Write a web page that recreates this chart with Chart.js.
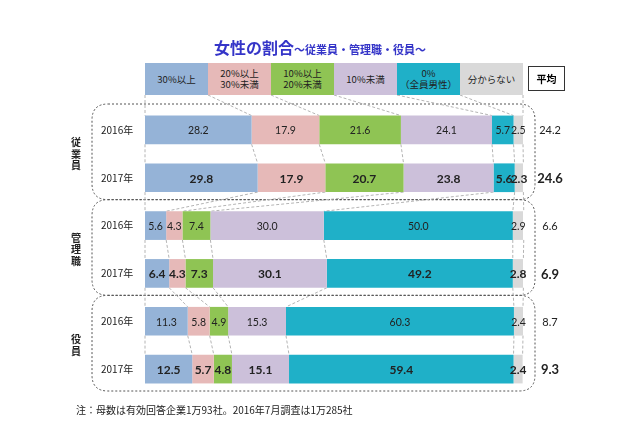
<!DOCTYPE html>
<html>
<head>
<meta charset="utf-8">
<script src="https://cdn.jsdelivr.net/npm/chart.js@4"></script>
<style>
  body { margin: 0; background: #fff; }
  #wrap { position: relative; width: 640px; height: 426px; font-family: "Noto Sans CJK JP", sans-serif; }
  #title { position: absolute; left: 0; width: 640px; top: 35px; text-align: center; color: #3535c8; font-weight: bold; }
  #title .big { font-size: 16px; }
  #title .small { font-size: 11px; }
  #legend { position: absolute; left: 145px; top: 63px; width: 378px; height: 32px; display: flex; }
  #legend div { flex: 1; display: flex; align-items: center; justify-content: center; text-align: center; font-size: 9.5px; line-height: 11px; color: #222; }
  #avg { position: absolute; left: 528px; top: 66px; width: 37px; height: 25px; border: 1px solid #333; box-sizing: border-box; font-size: 10px; font-weight: bold; display: flex; align-items: center; justify-content: center; }
  #note { position: absolute; left: 76px; top: 402px; font-size: 10px; color: #222; }
  canvas { position: absolute; left: 0; top: 0; }
</style>
</head>
<body>
<div id="wrap">
  <canvas id="chart" width="640" height="426"></canvas>
  <div id="title"><span class="big">女性の割合</span><span class="small">～従業員・管理職・役員～</span></div>
  <div id="legend"></div>
  <div id="avg">平均</div>
  <div id="note">注：母数は有効回答企業1万93社。2016年7月調査は1万285社</div>
</div>
<script>
// categories
const rowLabels = ['2016年', '2017年', '2016年', '2017年', '2016年', '2017年'];
const groupLabels = ['従業員', '管理職', '役員'];
const seriesNames = ['30%以上', '20%以上<br>30%未満', '10%以上<br>20%未満', '10%未満', '0%<br>（全員男性）', '分からない'];
const seriesColors = ['#95b3d7', '#e6b9b8', '#8fc454', '#ccc0da', '#1fb0c8', '#d9d9d9'];

// values (%)
const over30 = [28.2, 29.8, 5.6, 6.4, 11.3, 12.5];
const from20to30 = [17.9, 17.9, 4.3, 4.3, 5.8, 5.7];
const from10to20 = [21.6, 20.7, 7.4, 7.3, 4.9, 4.8];
const under10 = [24.1, 23.8, 30.0, 30.1, 15.3, 15.1];
const zero = [5.7, 5.6, 50.0, 49.2, 60.3, 59.4];
const unknown = [2.5, 2.3, 2.9, 2.8, 2.4, 2.4];
const averages = [24.2, 24.6, 6.6, 6.9, 8.7, 9.3];

const series = [over30, from20to30, from10to20, under10, zero, unknown];

// html legend
const legendEl = document.getElementById('legend');
seriesNames.forEach((name, i) => {
  const d = document.createElement('div');
  d.style.background = seriesColors[i];
  d.innerHTML = name;
  legendEl.appendChild(d);
});

function roundRect(ctx, x, y, w, h, r) {
  ctx.beginPath();
  ctx.moveTo(x + r, y);
  ctx.lineTo(x + w - r, y);
  ctx.quadraticCurveTo(x + w, y, x + w, y + r);
  ctx.lineTo(x + w, y + h - r);
  ctx.quadraticCurveTo(x + w, y + h, x + w - r, y + h);
  ctx.lineTo(x + r, y + h);
  ctx.quadraticCurveTo(x, y + h, x, y + h - r);
  ctx.lineTo(x, y + r);
  ctx.quadraticCurveTo(x, y, x + r, y);
  ctx.closePath();
}

const overlay = {
  id: 'overlay',
  beforeDatasetsDraw(chart) {
    const ctx = chart.ctx;
    const area = chart.chartArea;
    const ys = chart.scales.y;
    const step = ys.getPixelForValue(1) - ys.getPixelForValue(0);
    ctx.save();

    // dashed group boxes
    ctx.strokeStyle = '#555';
    ctx.lineWidth = 1;
    ctx.setLineDash([2, 2]);
    groupLabels.forEach((g, gi) => {
      const top = ys.getPixelForValue(gi * 2) - step / 2 - 2;
      const bottom = ys.getPixelForValue(gi * 2 + 1) + step / 2 - 2;
      roundRect(ctx, 92, top, 443, bottom - top, 16);
      ctx.stroke();
    });

    // connector lines between bars
    ctx.strokeStyle = '#b4b4b4';
    ctx.setLineDash([3, 2]);
    const metas = series.map((s, i) => chart.getDatasetMeta(i));
    const edges = r => {
      const out = [metas[0].data[r].base];
      metas.forEach(m => out.push(m.data[r].x));
      return out;
    };
    const barH = metas[0].data[0].height;
    // legend to first row
    const e0 = edges(0);
    for (let k = 0; k <= 6; k++) {
      const lx = area.left + k * (area.right - area.left) / 6;
      ctx.beginPath();
      ctx.moveTo(lx, 95);
      ctx.lineTo(e0[k], metas[0].data[0].y - barH / 2);
      ctx.stroke();
    }
    for (let r = 0; r < rowLabels.length - 1; r++) {
      const a = edges(r), b = edges(r + 1);
      const y1 = metas[0].data[r].y + barH / 2;
      const y2 = metas[0].data[r + 1].y - barH / 2;
      for (let k = 0; k <= 6; k++) {
        ctx.beginPath();
        ctx.moveTo(a[k], y1);
        ctx.lineTo(b[k], y2);
        ctx.stroke();
      }
    }
    ctx.restore();
  },
  afterDatasetsDraw(chart) {
    const ctx = chart.ctx;
    const ys = chart.scales.y;
    ctx.save();
    ctx.textBaseline = 'middle';
    ctx.fillStyle = '#222';

    // values in bars
    series.forEach((s, i) => {
      const meta = chart.getDatasetMeta(i);
      meta.data.forEach((bar, r) => {
        const bold = r % 2 === 1;
        ctx.font = bold ? 'bold 12px Lato, sans-serif' : '10.5px Lato, sans-serif';
        ctx.textAlign = 'center';
        ctx.fillText(s[r].toFixed(1), (bar.x + bar.base) / 2, bar.y + 1);
      });
    });

    // year labels and averages
    rowLabels.forEach((lab, r) => {
      const y = ys.getPixelForValue(r);
      ctx.textAlign = 'left';
      ctx.font = '10px "Noto Sans CJK JP", sans-serif';
      ctx.fillText(lab, 101, y);
      const bold = r % 2 === 1;
      ctx.textAlign = 'center';
      ctx.font = bold ? 'bold 13px Lato, sans-serif' : '11px Lato, sans-serif';
      ctx.fillText(averages[r].toFixed(1), 550, y + 1);
    });

    // vertical group labels
    ctx.font = 'bold 10px "Noto Sans CJK JP", sans-serif';
    ctx.textAlign = 'center';
    groupLabels.forEach((g, gi) => {
      const mid = (ys.getPixelForValue(gi * 2) + ys.getPixelForValue(gi * 2 + 1)) / 2;
      const chars = g.split('');
      chars.forEach((c, ci) => {
        ctx.fillText(c, 76, mid + (ci - (chars.length - 1) / 2) * 11.5);
      });
    });
    ctx.restore();
  }
};

new Chart(document.getElementById('chart').getContext('2d'), {
  type: 'bar',
  data: {
    labels: rowLabels,
    datasets: series.map((s, i) => ({
      label: seriesNames[i],
      data: s,
      backgroundColor: seriesColors[i],
      borderWidth: 0,
      barPercentage: 0.6,
      categoryPercentage: 1
    }))
  },
  options: {
    indexAxis: 'y',
    responsive: false,
    animation: false,
    layout: { padding: { left: 145, right: 117, top: 106, bottom: 33 } },
    scales: {
      x: { stacked: true, min: 0, max: 100, display: false },
      y: { stacked: true, display: false }
    },
    plugins: {
      legend: { display: false },
      tooltip: { enabled: false }
    }
  },
  plugins: [overlay]
});
</script>
</body>
</html>
